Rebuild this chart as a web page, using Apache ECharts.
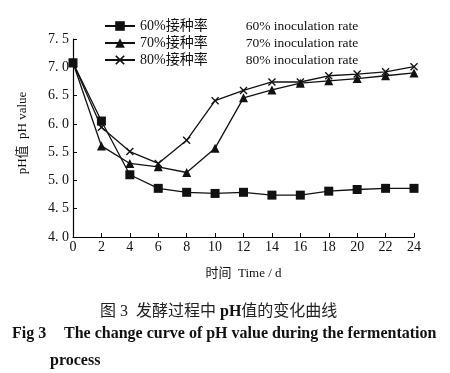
<!DOCTYPE html>
<html><head><meta charset="utf-8">
<script src="https://cdn.jsdelivr.net/npm/echarts@6/dist/echarts.min.js"></script>
<style>html,body{margin:0;padding:0;background:#fff}#c{width:450px;height:373px}</style>
</head><body><div id="c"></div>
<script>
var days = [0,2,4,6,8,10,12,14,16,18,20,22,24];
var rate60 = [7.08,6.05,5.10,4.86,4.79,4.77,4.79,4.74,4.74,4.81,4.84,4.86,4.86];
var rate70 = [7.08,5.61,5.30,5.24,5.14,5.57,6.46,6.60,6.72,6.76,6.80,6.85,6.90];
var rate80 = [7.08,5.94,5.51,5.30,5.71,6.41,6.59,6.74,6.74,6.85,6.88,6.92,7.01];
var seriesNames = ['60%接种率  60% inoculation rate','70%接种率  70% inoculation rate','80%接种率  80% inoculation rate'];
var yTicks = {min:4.0, max:7.5, step:0.5};
var xTicks = {min:0, max:24, step:2};

function pairs(vals){ return days.map(function(d,i){return [d, vals[i]];}); }
var serif = '"Liberation Serif","Noto Sans CJK SC",serif';
var crossPath = 'path://M0,1.2 L1.2,0 L5,3.8 L8.8,0 L10,1.2 L6.2,5 L10,8.8 L8.8,10 L5,6.2 L1.2,10 L0,8.8 L3.8,5 Z';

var chart = echarts.init(document.getElementById('c'));
chart.setOption({
  animation:false,
  backgroundColor:'#fff',
  grid:{left:73, right:36, top:39, bottom:136},
  legend:{
    orient:'vertical', left:99, top:14, itemGap:3, itemWidth:30, itemHeight:12,
    textStyle:{fontFamily:serif, fontSize:13, color:'#111',
      rich:{
        a:{fontFamily:serif, fontSize:14, color:'#111'},
        b:{fontFamily:serif, fontSize:13.5, color:'#111', padding:[0,0,0,38]}
      }},
    formatter:function(n){ var p = n.split('  '); return '{a|' + p[0] + '}{b|' + p[1] + '}'; },
    data:seriesNames
  },
  xAxis:{
    type:'value', min:xTicks.min, max:xTicks.max, interval:xTicks.step,
    name:'时间  Time / d', nameLocation:'middle', nameGap:30,
    nameTextStyle:{fontFamily:serif, fontSize:13, color:'#111'},
    axisLine:{lineStyle:{color:'#000', width:1.2}},
    axisTick:{inside:true, length:4, lineStyle:{color:'#000'}},
    axisLabel:{fontFamily:serif, fontSize:14, color:'#111', margin:3},
    splitLine:{show:false}
  },
  yAxis:{
    type:'value', min:yTicks.min, max:yTicks.max, interval:yTicks.step,
    name:'pH值  pH value', nameLocation:'middle', nameGap:44, nameRotate:90,
    nameTextStyle:{fontFamily:serif, fontSize:13, color:'#111', padding:[0,0,0,10]},
    axisLine:{show:true, lineStyle:{color:'#000', width:1.2}},
    axisTick:{inside:true, length:4, lineStyle:{color:'#000'}},
    axisLabel:{fontFamily:serif, fontSize:14, color:'#111', margin:4,
      formatter:function(v){return v.toFixed(1).replace('.', '. ');}},
    splitLine:{show:false}
  },
  series:[
    {name:seriesNames[0], type:'line', data:pairs(rate60), symbol:'rect', symbolSize:9,
     lineStyle:{color:'#111', width:1.3}, itemStyle:{color:'#111'}, z:3},
    {name:seriesNames[1], type:'line', data:pairs(rate70), symbol:'triangle', symbolSize:9,
     lineStyle:{color:'#111', width:1.3}, itemStyle:{color:'#111'}, z:4},
    {name:seriesNames[2], type:'line', data:pairs(rate80), symbol:crossPath, symbolSize:8,
     lineStyle:{color:'#111', width:1.3}, itemStyle:{color:'#111'}, z:5}
  ],
  graphic:[
    {type:'text', left:100, top:304, style:{
      text:'图 3  发酵过程中 {b|pH}值的变化曲线', fontFamily:serif, fontSize:16, fill:'#222',
      rich:{b:{fontFamily:serif, fontWeight:'bold', fontSize:16, fill:'#111'}}}},
    {type:'text', left:12, top:326, style:{
      text:'Fig 3', fontFamily:serif, fontWeight:'bold', fontSize:16, fill:'#111'}},
    {type:'text', left:64, top:326, style:{
      text:'The change curve of pH value during the fermentation', fontFamily:serif, fontWeight:'bold', fontSize:16, fill:'#111'}},
    {type:'text', left:50, top:353, style:{
      text:'process', fontFamily:serif, fontWeight:'bold', fontSize:16, fill:'#111'}}
  ]
});
</script></body></html>
